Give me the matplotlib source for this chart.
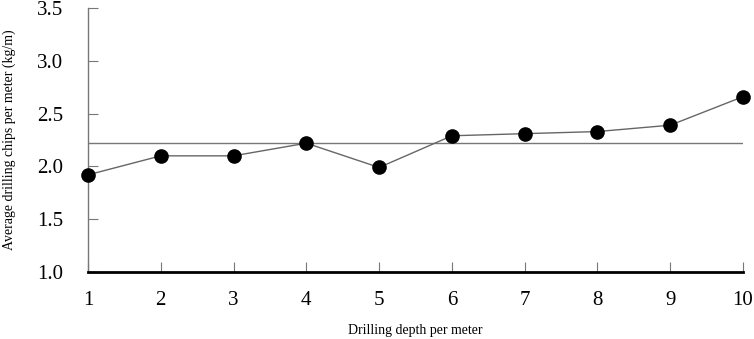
import matplotlib
matplotlib.use("Agg")
import matplotlib.pyplot as plt

depth = [1, 2, 3, 4, 5, 6, 7, 8, 9, 10]
chips = [1.92, 2.10, 2.10, 2.22, 1.99, 2.29, 2.31, 2.33, 2.39, 2.66]
mean_value = 2.22
yticks = [1.0, 1.5, 2.0, 2.5, 3.0, 3.5]
xlabel = "Drilling depth per meter"
ylabel = "Average drilling chips per meter (kg/m)"

plt.rcParams['font.family'] = ['Liberation Serif', 'DejaVu Serif']

fig = plt.figure(figsize=(7.54, 3.39), dpi=100)
ax = fig.add_axes([88/754, 1 - 272/339, (743-88)/754, (272-8)/339])

ax.axhline(mean_value, color='#777777', lw=1.0, zorder=1)
ax.plot(depth, chips, color='#666666', lw=1.0, marker='o', markersize=9.5,
        markerfacecolor='black', markeredgecolor='black', zorder=3, clip_on=False)

ax.set_xlim(1, 10)
ax.set_ylim(1.0, 3.5)
ax.set_xticks(depth)
ax.set_xticklabels([str(d) for d in depth])
ax.set_yticks(yticks)
ax.set_yticklabels([f"{v:.1f}" for v in yticks])

for s in ['top', 'right']:
    ax.spines[s].set_visible(False)
ax.spines['left'].set_color('#777777')
ax.spines['left'].set_linewidth(1.0)
ax.spines['bottom'].set_color('black')
ax.spines['bottom'].set_linewidth(2.0)

ax.tick_params(axis='both', direction='in', length=7, width=0.8, color='#777777',
               labelsize=15, labelcolor='black')
ax.tick_params(axis='x', pad=14)
ax.tick_params(axis='y', pad=18)

ax.set_xlabel(xlabel, fontsize=10, labelpad=10)
ax.set_ylabel(ylabel, fontsize=10)
ax.yaxis.set_label_coords(-72/655, 0.5)

fig.savefig("out.png", dpi=100)
